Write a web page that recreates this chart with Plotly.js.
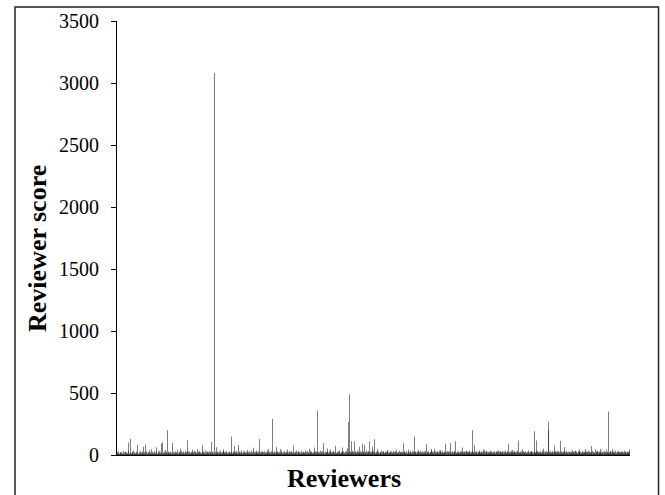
<!DOCTYPE html>
<html>
<head>
<meta charset="utf-8">
<script src="https://cdn.plot.ly/plotly-3.0.1.min.js"></script>
<style>
  html, body { margin: 0; padding: 0; background: #fff; }
  #chart { width: 665px; height: 495px; }
  /* thin bars are antialiased rather than snapped to whole pixels */
  #chart .bars path { shape-rendering: geometricPrecision !important; }
</style>
</head>
<body>
<div id="chart"></div>
<script>
// Reviewer scores, in reviewer order, split into blocks of 114 reviewers.
var scoresBlock1 = [
  12, 25, 8, 30, 14, 5, 22, 18, 9, 27,
  6, 15, 33, 11, 4, 20, 28, 13, 7, 24,
  17, 9, 31, 100, 12, 6, 132, 21, 14, 8,
  26, 19, 5, 36, 11, 23, 7, 16, 29, 10,
  18, 80, 13, 4, 25, 9, 34, 15, 21, 6,
  28, 12, 17, 66, 8, 24, 14, 84, 10, 30,
  5, 19, 26, 11, 38, 7, 22, 15, 9, 46,
  13, 27, 6, 20, 32, 10, 18, 8, 25, 62,
  14, 4, 29, 17, 11, 35, 9, 23, 15, 92,
  7, 102, 20, 12, 28, 6, 19, 40, 13, 24,
  9, 200, 16, 31, 8, 22, 14, 27, 5, 18,
  11, 98, 26, 10
];
var scoresBlock2 = [
  21, 7, 30, 15, 12, 24, 9, 42, 18, 6,
  27, 14, 20, 50, 11, 33, 8, 23, 16, 29,
  5, 19, 37, 12, 25, 10, 118, 22, 7, 28,
  15, 31, 9, 18, 26, 13, 42, 20, 6, 24,
  35, 11, 17, 29, 8, 21, 48, 14, 27, 10,
  19, 32, 7, 23, 16, 12, 78, 25, 9, 30,
  14, 20, 38, 11, 26, 6, 18, 28, 13, 22,
  8, 34, 15, 24, 106, 10, 29, 17, 5, 21,
  3080, 12, 26, 9, 62, 19, 31, 14, 23, 7,
  28, 16, 11, 36, 20, 8, 25, 13, 30, 46,
  17, 22, 6, 27, 14, 33, 10, 19, 24, 9,
  29, 15, 21, 12
];
var scoresBlock3 = [
  26, 150, 18, 8, 31, 14, 73, 21, 11, 27,
  16, 35, 7, 23, 80, 12, 29, 19, 9, 25,
  38, 13, 20, 6, 28, 17, 32, 10, 22, 15,
  27, 8, 19, 40, 24, 12, 30, 5, 21, 16,
  34, 11, 26, 9, 18, 59, 23, 14, 29, 7,
  20, 37, 13, 25, 10, 31, 130, 17, 22, 8,
  28, 15, 19, 33, 6, 24, 12, 30, 18, 9,
  26, 14, 36, 21, 11, 48, 16, 27, 7, 23,
  32, 13, 19, 292, 25, 10, 29, 15, 20, 8,
  24, 67, 17, 31, 12, 22, 9, 27, 48, 14,
  20, 35, 6, 18, 26, 11, 30, 16, 23, 10,
  28, 13, 19, 45
];
var scoresBlock4 = [
  22, 8, 30, 15, 26, 11, 19, 33, 7, 24,
  14, 76, 21, 9, 28, 17, 36, 12, 25, 6,
  20, 31, 13, 27, 10, 18, 34, 15, 23, 8,
  29, 16, 22, 11, 38, 19, 7, 26, 14, 30,
  12, 24, 48, 9, 21, 33, 17, 28, 6, 19,
  25, 13, 60, 22, 10, 31, 16, 27, 358, 20,
  8, 29, 14, 23, 37, 11, 18, 26, 9, 32,
  15, 97, 21, 12, 28, 7, 24, 17, 30, 52,
  13, 19, 35, 10, 26, 45, 16, 22, 8, 29,
  18, 33, 11, 25, 14, 75, 20, 9, 27, 15,
  31, 12, 23, 38, 17, 6, 28, 19, 24, 60,
  13, 30, 10, 21
];
var scoresBlock5 = [
  27, 14, 32, 9, 20, 55, 16, 266, 24, 490,
  12, 29, 18, 110, 35, 22, 8, 26, 15, 110,
  19, 31, 11, 24, 37, 13, 28, 17, 21, 67,
  10, 33, 16, 25, 14, 90, 20, 30, 12, 81,
  23, 18, 36, 9, 27, 15, 22, 32, 110, 11,
  26, 19, 8, 29, 67, 24, 13, 34, 17, 128,
  21, 10, 28, 15, 23, 50, 12, 31, 18, 7,
  25, 20, 36, 14, 27, 9, 22, 33, 16, 11,
  29, 19, 24, 13, 30, 40, 8, 26, 17, 21,
  35, 12, 28, 15, 23, 10, 32, 18, 25, 7,
  20, 30, 14, 45, 22, 11, 27, 16, 34, 9,
  24, 19, 13, 28
];
var scoresBlock6 = [
  17, 26, 11, 95, 21, 30, 14, 23, 8, 32,
  19, 13, 45, 27, 10, 24, 36, 16, 22, 9,
  29, 15, 33, 12, 25, 150, 18, 28, 7, 21,
  31, 14, 38, 20, 11, 26, 17, 35, 13, 24,
  9, 30, 19, 23, 12, 28, 16, 34, 86, 10,
  22, 27, 14, 32, 18, 8, 25, 21, 36, 50,
  15, 29, 11, 24, 50, 19, 33, 13, 26, 9,
  20, 31, 16, 22, 37, 12, 28, 40, 17, 25,
  10, 34, 21, 14, 29, 18, 23, 93, 7, 27,
  32, 15, 20, 26, 11, 35, 19, 97, 24, 13,
  30, 17, 22, 9, 28, 33, 14, 110, 21, 12,
  26, 18, 31, 15
];
var scoresBlock7 = [
  23, 10, 28, 19, 34, 14, 60, 21, 27, 12,
  30, 16, 24, 9, 32, 35, 18, 25, 13, 29,
  20, 36, 11, 26, 15, 22, 31, 200, 17, 24,
  10, 80, 27, 19, 33, 14, 21, 8, 28, 16,
  25, 37, 12, 23, 18, 30, 11, 26, 45, 20,
  15, 40, 29, 13, 22, 34, 9, 27, 17, 24,
  31, 12, 20, 28, 16, 35, 10, 23, 19, 26,
  14, 32, 21, 8, 29, 18, 32, 25, 38, 11,
  27, 15, 22, 33, 13, 24, 19, 30, 9, 26,
  17, 28, 12, 36, 21, 14, 25, 31, 10, 90,
  23, 18, 29, 11, 34, 16, 40, 20, 27, 13,
  24, 32, 15, 22
];
var scoresBlock8 = [
  28, 11, 20, 35, 16, 117, 24, 13, 30, 19,
  9, 26, 22, 48, 14, 31, 18, 25, 10, 33,
  21, 15, 27, 12, 36, 19, 23, 8, 29, 17,
  24, 32, 13, 26, 20, 11, 30, 191, 16, 22,
  28, 117, 14, 35, 19, 25, 10, 27, 18, 31,
  12, 23, 37, 15, 21, 50, 9, 29, 17, 26,
  33, 13, 24, 20, 269, 200, 11, 28, 16, 34,
  22, 14, 30, 19, 25, 9, 27, 77, 18, 32,
  12, 24, 36, 16, 21, 29, 10, 26, 115, 20,
  15, 33, 23, 13, 28, 18, 31, 62, 11, 25,
  19, 35, 14, 22, 27, 9, 30, 17, 24, 12,
  29, 20, 40, 15
];
var scoresBlock9 = [
  26, 18, 31, 11, 23, 36, 14, 28, 20, 9,
  33, 17, 25, 45, 12, 29, 21, 15, 34, 19,
  24, 10, 27, 16, 48, 22, 30, 13, 26, 18,
  35, 11, 23, 29, 15, 20, 73, 24, 9, 32,
  17, 27, 14, 21, 45, 12, 30, 19, 25, 36,
  11, 23, 28, 16, 20, 48, 13, 31, 22, 18,
  26, 9, 34, 15, 24, 19, 45, 12, 29, 21,
  17, 350, 25, 14, 32, 20, 11, 27, 23, 48,
  16, 30, 19, 24, 13, 36, 21, 10, 28, 18,
  25, 33, 14, 22, 29, 12, 20, 31, 17, 26,
  9, 24, 35, 15, 28, 19, 23, 11, 30, 16,
  21, 27, 14, 45
];

var yTickValues = [0, 500, 1000, 1500, 2000, 2500, 3000, 3500];
var yTickLabels = ['0', '500', '1000', '1500', '2000', '2500', '3000', '3500'];

var scores = [].concat(scoresBlock1, scoresBlock2, scoresBlock3, scoresBlock4,
  scoresBlock5, scoresBlock6, scoresBlock7, scoresBlock8, scoresBlock9);
var reviewers = scores.map(function (_, i) { return i + 1; });

var serif = 'Liberation Serif, Times New Roman, serif';

var trace = {
  type: 'bar',
  x: reviewers,
  y: scores,
  marker: { color: '#000000', line: { width: 0 } },
  hoverinfo: 'skip'
};

var layout = {
  width: 665,
  height: 495,
  margin: { l: 117, r: 35, t: 21, b: 40 },
  paper_bgcolor: '#ffffff',
  plot_bgcolor: '#ffffff',
  bargap: 0,
  showlegend: false,
  font: { family: serif, color: '#000000' },
  xaxis: {
    range: [0.5, reviewers.length + 0.5],
    showticklabels: false,
    ticks: '',
    showgrid: false,
    zeroline: false,
    showline: true,
    linecolor: '#000000',
    linewidth: 1
  },
  yaxis: {
    range: [0, 3500],
    tickmode: 'array',
    tickvals: yTickValues,
    ticktext: yTickLabels,
    ticks: 'outside',
    ticklen: 5,
    tickcolor: '#000000',
    tickwidth: 1,
    ticklabelstandoff: 8,
    tickfont: { family: serif, size: 20, color: '#000000' },
    showgrid: false,
    zeroline: false,
    showline: true,
    linecolor: '#000000',
    linewidth: 1
  },
  annotations: [
    {
      text: '<b>Reviewer score</b>',
      xref: 'paper', yref: 'paper',
      x: -0.154, y: 0.477,
      xanchor: 'center', yanchor: 'middle',
      textangle: -90,
      showarrow: false,
      font: { family: serif, size: 26, color: '#000000' }
    },
    {
      text: '<b>Reviewers</b>',
      xref: 'paper', yref: 'paper',
      x: 0.4425, y: -0.055,
      xanchor: 'center', yanchor: 'middle',
      showarrow: false,
      font: { family: serif, size: 26, color: '#000000' }
    }
  ],
  shapes: [
    {
      type: 'rect',
      xref: 'paper', yref: 'paper',
      x0: -0.1988, x1: 1.0556,
      y0: -0.2, y1: 1.0323,
      line: { color: '#222222', width: 1.5 },
      fillcolor: 'rgba(0,0,0,0)'
    }
  ]
};

Plotly.newPlot('chart', [trace], layout, { staticPlot: true, displayModeBar: false });
</script>
</body>
</html>
